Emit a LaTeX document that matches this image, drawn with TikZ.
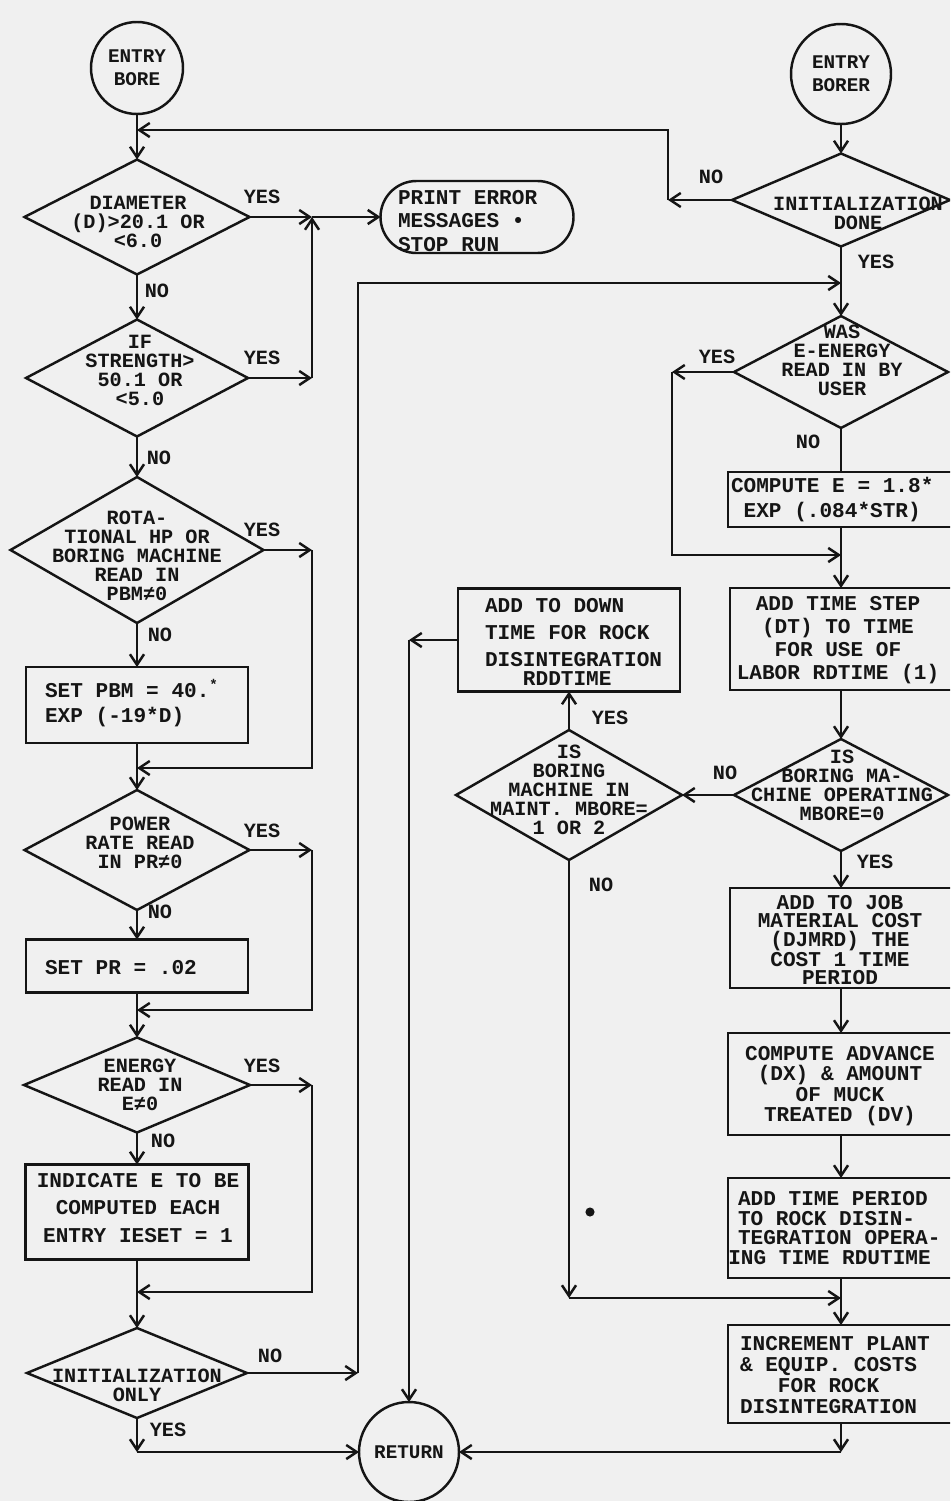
\documentclass[tikz,border=0pt]{standalone}
\usepackage{fontspec}
\newfontfamily\mono{Liberation Mono}
\usetikzlibrary{shapes.geometric,shapes.misc,arrows.meta}
\definecolor{bg}{HTML}{F0F0F0}
\definecolor{ink}{HTML}{151515}
\begin{document}
\begin{tikzpicture}[x=0.02cm,y=-0.02cm,
  every node/.style={inner sep=0pt, outer sep=0pt},
  ln/.style={line width=1.4pt, draw=ink},
  arr/.style={ln, -{Straight Barb[length=6pt,width=8pt]}},
  bw/.style={minimum width=#1*0.02cm},
  bh/.style={minimum height=#1*0.02cm},
  dia/.style={shape=diamond, draw=ink, line width=1.4pt},
  bx/.style={rectangle, draw=ink, line width=1.4pt},
  stad/.style={rounded rectangle, draw=ink, line width=1.4pt},
  circ/.style={circle, draw=ink, line width=1.4pt, text=ink, align=center,
    font=\mono\bfseries\fontsize{11}{13}\selectfont},
  ls/.style={text=ink, font=\mono\bfseries\fontsize{12}{#1}\selectfont},
  dt/.style={text=ink, align=center, font=\mono\bfseries\fontsize{11.5}{10.8}\selectfont},
  lab/.style={text=ink, font=\mono\bfseries\fontsize{11.5}{12}\selectfont}
]
\useasboundingbox (0,0) rectangle (950,1501);
\fill[bg] (0,0) rectangle (950,1501);
\clip (0,0) rectangle (950,1501);

% ---------- left column ----------
\node[circ, minimum size=92*0.02cm] (eb) at (137,68) {ENTRY\\BORE};
\coordinate (j0) at (137,130);
\node[dia, bw=225, bh=115] (d1) at (137,217) {};
\node[dt] (t1) at (138,222) {DIAMETER\\(D)>20.1 OR\\<6.0};
\coordinate (j1) at (312,217);
\node[stad, bw=193, bh=72] (pe) at (477,217) {};
\node[ls=13.3, anchor=west, align=left] (tpe) at (398,221) {PRINT ERROR\\MESSAGES •\\STOP RUN};
\node[dia, bw=222, bh=117] (d2) at (137,378) {};
\node[dt] (t2) at (140,370) {IF\\STRENGTH>\\50.1 OR\\<5.0};
\coordinate (j2) at (312,378);
\node[dia, bw=253, bh=146] (d3) at (137,550) {};
\node[dt] (t3) at (137,556) {ROTA-\\TIONAL HP OR\\BORING MACHINE\\READ IN\\PBM≠0};
\coordinate (c3) at (312,550);
\node[bx, bw=222, bh=76] (bpbm) at (137,705) {};
\node[ls=14.2, anchor=west, align=left] (tpbm) at (45,703) {SET PBM = 40.\textsuperscript{*}\\EXP (-19*D)};
\coordinate (j3) at (137,768);
\node[dia, bw=225, bh=120] (d4) at (137,850) {};
\node[dt] (t4) at (140,843) {POWER\\RATE READ\\IN PR≠0};
\coordinate (c4) at (312,850);
\node[bx, bw=222, bh=53] (bpr) at (137,966) {};
\node[ls=14, anchor=west] (tpr) at (45,968) {SET PR = .02};
\coordinate (j4) at (137,1010);
\node[dia, bw=226, bh=95] (d5) at (137,1085) {};
\node[dt] (t5) at (140,1085) {ENERGY\\READ IN\\E≠0};
\coordinate (c5) at (312,1085);
\node[bx, bw=223, bh=95] (bind) at (137,1212) {};
\node[ls=15.9, align=center] (tind) at (138,1208) {INDICATE E TO BE\\COMPUTED EACH\\ENTRY IESET = 1};
\coordinate (j5) at (137,1292);
\node[dia, bw=220, bh=90] (d6) at (137,1373) {};
\node[dt] (t6) at (137,1385) {INITIALIZATION\\ONLY};
\coordinate (c6) at (358,1373);
\coordinate (c6b) at (137,1452);
\node[circ, minimum size=100*0.02cm] (ret) at (409,1452) {RETURN};

% ---------- right column ----------
\node[circ, minimum size=100*0.02cm] (ebr) at (841,74) {ENTRY\\BORER};
\node[dia, bw=218, bh=93] (d7) at (841,200) {};
\node[dt] (t7) at (858,213) {INITIALIZATION\\DONE};
\coordinate (c7) at (668,200);
\coordinate (j7) at (841,283);
\node[dia, bw=214, bh=112] (d8) at (841,372) {};
\node[dt] (t8) at (842,360) {WAS\\E-ENERGY\\READ IN BY\\USER};
\coordinate (c8) at (672,372);
\node[bx, bw=226, bh=55] (bce) at (841,499.5) {};
\node[ls=14.2, anchor=west, align=left] (tce) at (731,500) {COMPUTE E = 1.8*\\\hspace*{7.2pt}EXP (.084*STR)};
\coordinate (j8) at (841,555);
\node[bx, bw=222, bh=102] (bts) at (841,639) {};
\node[ls=13, align=center] (tts) at (838,640) {ADD TIME STEP\\(DT) TO TIME\\FOR USE OF\\LABOR RDTIME (1)};
\node[dia, bw=214, bh=112] (d9) at (841,795) {};
\node[dt] (t9) at (842,785) {IS\\BORING MA-\\CHINE OPERATING\\MBORE=0};
\node[dia, bw=226, bh=130] (d10) at (569,795) {};
\node[dt] (t10) at (569,790) {IS\\BORING\\MACHINE IN\\MAINT. MBORE=\\1 OR 2};
\node[bx, bw=222, bh=103] (bdown) at (569,640) {};
\node[ls=15.3, anchor=west, align=left] (tdown) at (485,642) {ADD TO DOWN\\TIME FOR ROCK\\DISINTEGRATION\\[-4pt]\hspace*{21.6pt}RDDTIME};
\coordinate (c10) at (409,640);
\coordinate (c11) at (569,1298);
\node[bx, bw=222, bh=100] (bjob) at (841,938) {};
\node[ls=10.5, align=center] (tjob) at (840,940) {ADD TO JOB\\MATERIAL COST\\(DJMRD) THE\\COST 1 TIME\\PERIOD};
\node[bx, bw=226, bh=102] (badv) at (841,1084) {};
\node[ls=11.7, align=center] (tadv) at (840,1086) {COMPUTE ADVANCE\\(DX) \& AMOUNT\\OF MUCK\\TREATED (DV)};
\node[bx, bw=226, bh=100] (bper) at (841,1228) {};
\node[ls=11.3, anchor=west, align=left] (tper) at (738,1228) {ADD TIME PERIOD\\TO ROCK DISIN-\\TEGRATION OPERA-\\\hspace*{-5.5pt}ING TIME RDUTIME};
\coordinate (j9) at (841,1298);
\node[bx, bw=226, bh=98] (binc) at (841,1374) {};
\node[ls=12, anchor=west, align=left] (tinc) at (740,1375) {INCREMENT PLANT\\\& EQUIP. COSTS\\\hspace*{21.6pt}FOR ROCK\\DISINTEGRATION};
\coordinate (j10) at (841,1452);

% ---------- connectors ----------
\draw[arr] (eb) -- (d1.north);
\draw[arr] (d7.west) -- (c7);
\draw[arr] (c7) |- (j0);
\draw[arr] (d1.east) -- (j1);
\draw[arr] (j1) -- (pe.west);
\draw[arr] (d2.east) -- (j2);
\draw[arr] (j2) -- (j1);
\draw[arr] (d1.south) -- (d2.north);
\draw[arr] (d2.south) -- (d3.north);
\draw[arr] (d3.east) -- (c3);
\draw[arr] (c3) |- (j3);
\draw[arr] (d3.south) -- (bpbm.north);
\draw[arr] (bpbm.south) -- (d4.north);
\draw[arr] (d4.east) -- (c4);
\draw[arr] (c4) |- (j4);
\draw[arr] (d4.south) -- (bpr.north);
\draw[arr] (bpr.south) -- (d5.north);
\draw[arr] (d5.east) -- (c5);
\draw[arr] (c5) |- (j5);
\draw[arr] (d5.south) -- (bind.north);
\draw[arr] (bind.south) -- (d6.north);
\draw[arr] (d6.east) -- (c6);
\draw[arr] (c6) |- (j7);
\draw[arr] (d6.south) -- (c6b);
\draw[arr] (c6b) -- (ret.west);
\draw[arr] (ebr) -- (d7.north);
\draw[arr] (d7.south) -- (d8.north);
\draw[arr] (d8.west) -- (c8);
\draw[arr] (c8) |- (j8);
\draw[ln] (d8.south) -- (bce.north);
\draw[arr] (bce.south) -- (bts.north);
\draw[arr] (bts.south) -- (d9.north);
\draw[arr] (d9.west) -- (d10.east);
\draw[arr] (d10.north) -- (bdown.south);
\draw[arr] (bdown.west) -- (c10);
\draw[arr] (c10) -- (ret.north);
\draw[arr] (d10.south) -- (c11);
\draw[arr] (c11) -- (j9);
\draw[arr] (d9.south) -- (bjob.north);
\draw[arr] (bjob.south) -- (badv.north);
\draw[arr] (badv.south) -- (bper.north);
\draw[arr] (bper.south) -- (binc.north);
\draw[arr] (binc.south) -- (j10);
\draw[arr] (j10) -- (ret.east);

% ---------- branch labels ----------
\node[lab] (l1) at (262,197) {YES};
\node[lab] (l2) at (157,291) {NO};
\node[lab] (l3) at (262,358) {YES};
\node[lab] (l4) at (159,458) {NO};
\node[lab] (l5) at (262,530) {YES};
\node[lab] (l6) at (160,635) {NO};
\node[lab] (l7) at (262,831) {YES};
\node[lab] (l8) at (160,912) {NO};
\node[lab] (l9) at (262,1066) {YES};
\node[lab] (l10) at (163,1141) {NO};
\node[lab] (l11) at (270,1356) {NO};
\node[lab] (l12) at (168,1430) {YES};
\node[lab] (l13) at (711,177) {NO};
\node[lab] (l14) at (876,262) {YES};
\node[lab] (l15) at (717,357) {YES};
\node[lab] (l16) at (808,442) {NO};
\node[lab] (l17) at (610,718) {YES};
\node[lab] (l18) at (725,773) {NO};
\node[lab] (l19) at (875,862) {YES};
\node[lab] (l20) at (601,885) {NO};

\fill[ink] (590,1212) circle[radius=2.6pt];
\end{tikzpicture}
\end{document}
